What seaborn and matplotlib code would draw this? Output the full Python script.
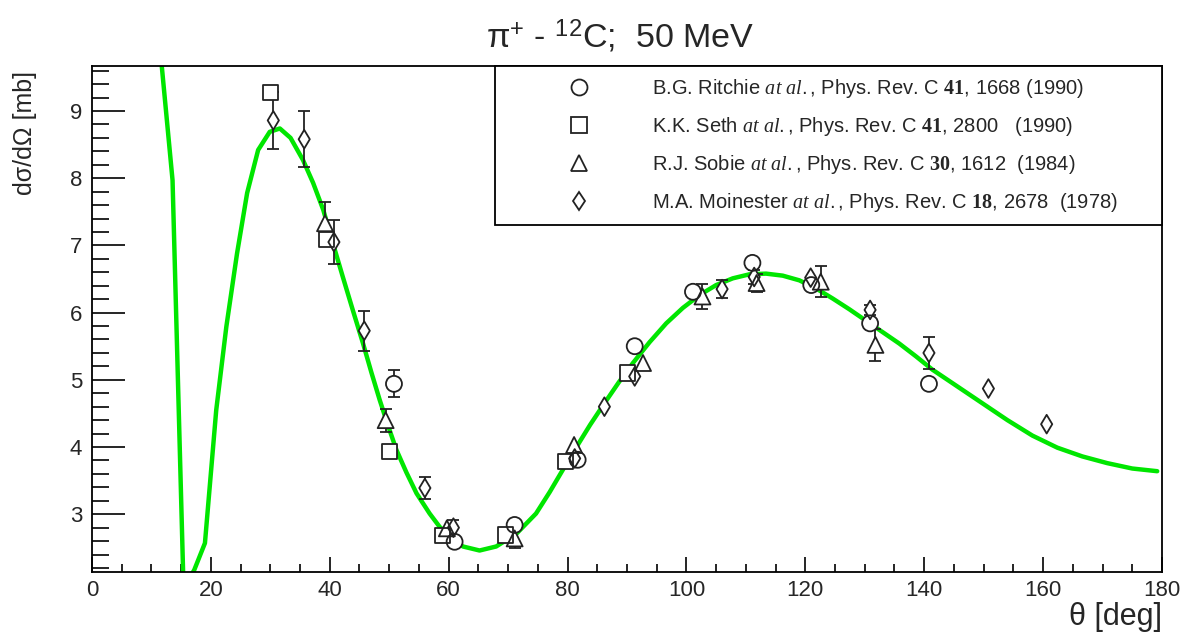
import matplotlib
matplotlib.use("Agg")
import matplotlib.pyplot as plt
import seaborn as sns
from matplotlib.lines import Line2D
from matplotlib.ticker import MultipleLocator

# theory curve (theta in deg, cross section in mb)
curve_theta = [10.0, 11.8, 13.55, 15.4, 17.2, 19.0, 20.9, 22.6, 24.4, 26.1, 27.95, 29.9, 31.6,
               33.4, 35.5, 37.2, 38.9, 40.5, 42.2, 43.9, 45.6, 47.0, 48.4, 49.8, 51.2, 52.9,
               54.6, 56.8, 58.5, 60.2, 62.4, 65.2, 68.0, 71.4, 74.7, 77.0, 79.2, 81.5, 83.8,
               86.2, 88.6, 91.0, 93.8, 96.6, 99.4, 102.2, 105.0, 107.8, 110.6, 113.4, 116.2,
               119.0, 121.8, 124.6, 127.4, 130.2, 133.0, 135.8, 138.6, 141.4, 145.6, 149.8,
               154.0, 158.2, 162.4, 166.6, 170.8, 175.0, 179.2]
curve_xs = [11.3, 9.61, 7.97, 1.9, 2.17, 2.57, 4.55, 5.79, 6.88, 7.78, 8.42, 8.69, 8.74,
            8.60, 8.27, 7.93, 7.53, 7.04, 6.53, 6.03, 5.54, 5.11, 4.70, 4.32, 3.96, 3.62,
            3.31, 3.01, 2.81, 2.67, 2.52, 2.46, 2.52, 2.71, 3.01, 3.33, 3.66, 4.00, 4.33,
            4.65, 4.96, 5.25, 5.56, 5.84, 6.07, 6.26, 6.41, 6.51, 6.57, 6.58, 6.55,
            6.48, 6.36, 6.21, 6.05, 5.88, 5.71, 5.54, 5.35, 5.15, 4.90, 4.65,
            4.40, 4.17, 3.99, 3.86, 3.76, 3.68, 3.64]

# data sets
ritchie_theta = [50.8, 61.0, 71.1, 81.7, 91.3, 101.1, 111.1, 121.0, 130.9, 140.8]
ritchie_xs = [4.94, 2.59, 2.84, 3.81, 5.50, 6.31, 6.74, 6.41, 5.84, 4.94]
ritchie_err = [0.20, 0, 0, 0, 0, 0, 0, 0, 0, 0]

seth_theta = [30.0, 39.5, 50.1, 59.0, 69.6, 79.6, 90.1]
seth_xs = [9.28, 7.09, 3.93, 2.68, 2.69, 3.78, 5.10]
seth_err = [0, 0, 0, 0, 0, 0, 0]

sobie_theta = [39.2, 49.4, 59.7, 71.1, 81.1, 92.7, 102.7, 111.8, 122.6, 131.8]
sobie_xs = [7.33, 4.40, 2.79, 2.64, 4.03, 5.25, 6.24, 6.44, 6.46, 5.52]
sobie_err = [0.32, 0.17, 0, 0.15, 0, 0, 0.18, 0.14, 0.23, 0.24]

moinester_theta = [30.5, 35.7, 40.7, 45.8, 56.0, 60.8, 81.2, 86.2, 91.3, 106.0, 111.4, 120.9,
                   130.9, 140.8, 150.8, 160.6]
moinester_xs = [8.86, 8.58, 7.05, 5.73, 3.39, 2.80, 3.83, 4.60, 5.05, 6.35, 6.53, 6.52,
                6.04, 5.40, 4.87, 4.34]
moinester_err = [0.42, 0.42, 0.33, 0.30, 0.17, 0.11, 0, 0, 0, 0.13, 0.10, 0,
                 0.07, 0.24, 0, 0]

labels = [
    r"B.G. Ritchie $\mathit{at\ al.}$, Phys. Rev. C $\mathbf{41}$, 1668 (1990)",
    r"K.K. Seth $\mathit{at\ al.}$, Phys. Rev. C $\mathbf{41}$, 2800   (1990)",
    r"R.J. Sobie $\mathit{at\ al.}$, Phys. Rev. C $\mathbf{30}$, 1612  (1984)",
    r"M.A. Moinester $\mathit{at\ al.}$, Phys. Rev. C $\mathbf{18}$, 2678  (1978)",
]

sns.set_theme(style="white")
plt.rcParams['font.family'] = ['Liberation Sans', 'DejaVu Sans']
plt.rcParams['mathtext.fontset'] = 'custom'
plt.rcParams['mathtext.rm'] = 'Liberation Sans'
plt.rcParams['mathtext.it'] = 'Liberation Serif:italic'
plt.rcParams['mathtext.bf'] = 'Liberation Serif:bold'

fig = plt.figure(figsize=(11.84, 6.35), dpi=100)
ax = fig.add_axes([0.0777, 0.0992, 0.9037, 0.7969])

ink = '#222222'
sns.lineplot(x=curve_theta, y=curve_xs, sort=False, estimator=None, color='#00e600',
             linewidth=3.2, ax=ax, zorder=2)

sets = [
    (ritchie_theta, ritchie_xs, ritchie_err, 'o', 11.5),
    (seth_theta, seth_xs, seth_err, 's', 11.0),
    (sobie_theta, sobie_xs, sobie_err, '^', 11.5),
    (moinester_theta, moinester_xs, moinester_err, 'd', 9.5),
]

handles = []
for th, xs, err, mk, ms in sets:
    keep = [i for i, e in enumerate(err) if e > 0]
    if keep:
        ax.errorbar([th[i] for i in keep], [xs[i] for i in keep],
                    yerr=[err[i] for i in keep], fmt='none', ecolor=ink,
                    elinewidth=1.3, capsize=4, capthick=1.3, zorder=3)
    # white underlay hides the error bar inside the hollow marker
    sns.scatterplot(x=th, y=xs, marker=mk, s=ms ** 2, color='white', edgecolor='none',
                    linewidth=0, ax=ax, zorder=4)
    sns.scatterplot(x=th, y=xs, marker=mk, s=ms ** 2, color='none', edgecolor=ink,
                    linewidth=1.3, ax=ax, zorder=5)
    handles.append(Line2D([], [], marker=mk, linestyle='none', markersize=ms,
                          markerfacecolor='none', markeredgecolor=ink, markeredgewidth=1.3))

ax.set_xlim(0, 180)
ax.set_ylim(2.14, 9.67)
ax.xaxis.set_major_locator(MultipleLocator(20))
ax.xaxis.set_minor_locator(MultipleLocator(5))
ax.yaxis.set_major_locator(MultipleLocator(1))
ax.yaxis.set_minor_locator(MultipleLocator(0.2))
ax.tick_params(axis='y', which='major', direction='in', length=24, width=1.2,
               labelsize=16, pad=7, left=True, color='black')
ax.tick_params(axis='y', which='minor', direction='in', length=12, width=1.2,
               left=True, color='black')
ax.tick_params(axis='x', which='major', direction='in', length=11, width=1.2,
               labelsize=16, pad=6, bottom=True, color='black')
ax.tick_params(axis='x', which='minor', direction='in', length=5.5, width=1.2,
               bottom=True, color='black')
for sp in ax.spines.values():
    sp.set_color('black')
    sp.set_linewidth(1.3)

ax.set_xlabel(r"θ [deg]", fontsize=22, loc='right')
ax.xaxis.set_label_coords(1.0, -0.06)
ax.set_ylabel("dσ/dΩ [mb]", fontsize=18, loc='top')
ax.yaxis.set_label_coords(-0.051, 0.99)

fig.text(0.524, 0.942, r"$\mathrm{\pi}^{+}$ - $^{12}$C;  50 MeV", ha='center', va='center',
         fontsize=24.5)

leg = ax.legend(handles, labels, loc='upper left', bbox_to_anchor=(0.3766, 0, 0.6234, 1.0),
                mode='expand', borderaxespad=0, fontsize=14.5, frameon=True, fancybox=False,
                edgecolor='black', framealpha=1, borderpad=0.55, handlelength=7.2,
                handletextpad=0.05, labelspacing=0.75)
leg.get_frame().set_linewidth(1.3)
leg.set_zorder(10)

fig.savefig('out.png', dpi=100)
